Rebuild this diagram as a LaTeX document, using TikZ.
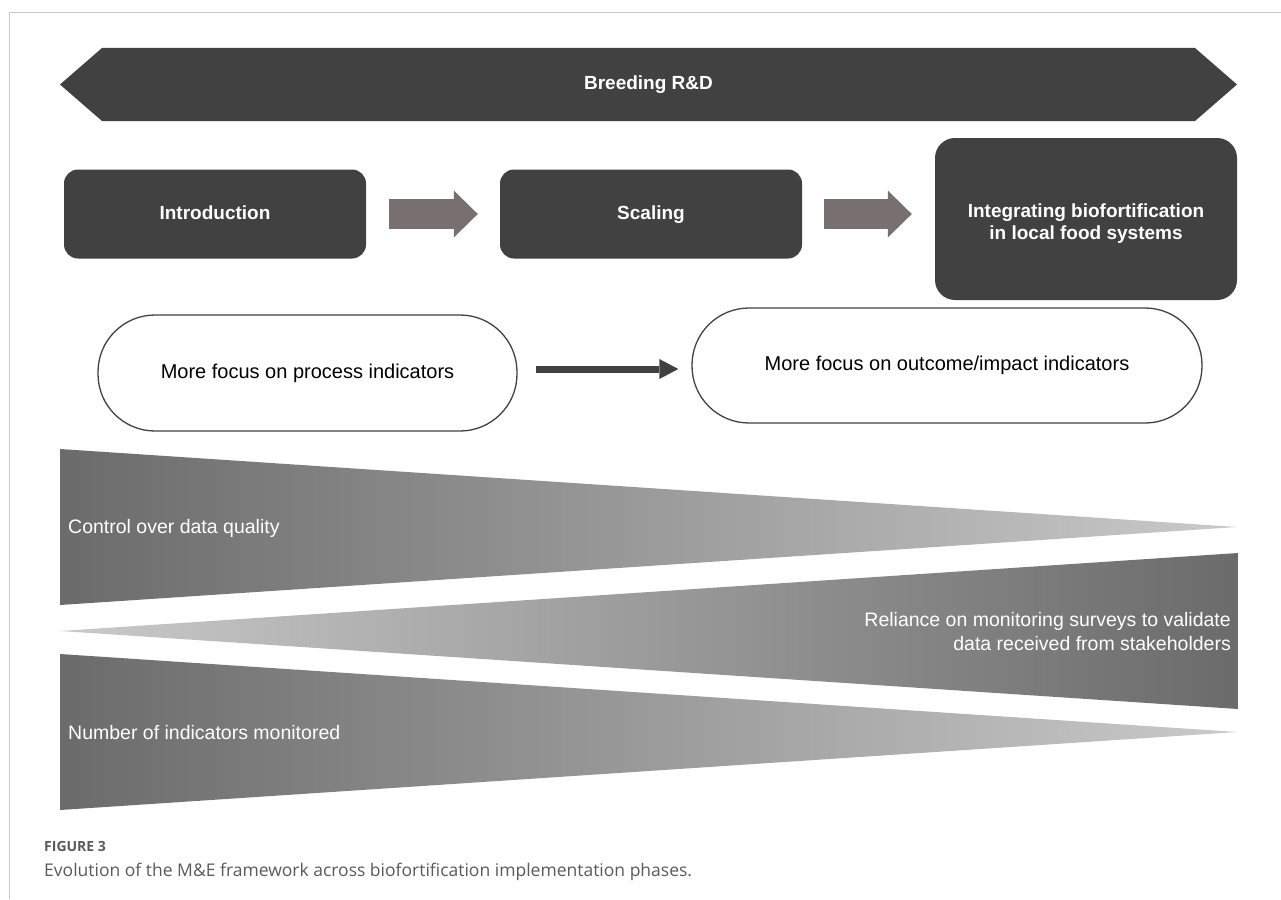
\documentclass[tikz,border=0pt]{standalone}
\usepackage{fontspec}
\setmainfont{Liberation Sans}
\newfontfamily\capfont{Open Sans}
\usetikzlibrary{arrows.meta}

\definecolor{boxgray}{HTML}{414141}
\definecolor{arrowgray}{HTML}{77706F}
\definecolor{darkwedge}{HTML}{6B6B6B}
\definecolor{lightwedge}{HTML}{CACACA}
\definecolor{framegray}{HTML}{C8C8C8}
\definecolor{capgray}{HTML}{5A5A5A}

\tikzset{
    phase/.style={fill=boxgray, text=white, font=\bfseries\fontsize{19}{22}\selectfont,
        minimum width=302pt, rounded corners=14pt, align=center, inner sep=0pt},
    oneline/.style={text height=14pt, text depth=4pt},
    focus/.style={draw=boxgray, line width=1.3pt, rounded corners=57pt, oneline,
        font=\fontsize{20}{24}\selectfont, inner sep=0pt},
    blockarrow/.style={arrowgray, line width=30pt, -{Triangle[width=47pt,length=24pt,line width=0pt]}},
    focusarrow/.style={draw=boxgray, line width=7pt, -{Triangle[width=20pt,length=19pt,line width=0pt]}},
    wedgelabel/.style={text=white, font=\fontsize{19.5}{24}\selectfont, inner sep=0pt},
}

\begin{document}
\begin{tikzpicture}[x=1pt, y=-1pt]
    \useasboundingbox (0,0) rectangle (1281,899);
    \draw[framegray, line width=1.3pt] (9.3,899) -- (9.3,12.7) -- (1281,12.7);

    % banner
    \fill[boxgray] (60,84.5) -- (102,48) -- (1195,48) -- (1237,84.5) -- (1195,121) -- (102,121) -- cycle;
    \node[text=white, font=\bfseries\fontsize{19}{22}\selectfont] (breed) at (648.5,84.5) {Breeding R\&D};

    % phases
    \node[phase, oneline, minimum height=89pt] (intro) at (215,214) {Introduction};
    \node[phase, oneline, minimum height=89pt] (scale) at (651,214) {Scaling};
    \node[phase, minimum height=162pt, rounded corners=20pt] (integ) at (1086,219) {\rule{0pt}{22pt}Integrating biofortification\\in local food systems};
    \draw[blockarrow, shorten <=23pt, shorten >=22pt] (intro.east) -- (scale.west);
    \draw[blockarrow, shorten <=22pt, shorten >=23pt] (scale.east) -- (scale.east -| integ.west);

    % indicators
    \node[focus, minimum width=419pt, minimum height=116pt] (proc) at (307.5,373) {More focus on process indicators};
    \node[focus, minimum width=510pt, minimum height=115pt] (outc) at (947,365.5) {More focus on outcome/impact indicators};
    \draw[focusarrow, shorten <=18pt, shorten >=13pt] ([yshift=4pt]proc.east) -- ([yshift=-3.5pt]outc.west);

    % wedges
    \shade[left color=darkwedge, right color=lightwedge] (60,449) -- (1237,527) -- (60,605) -- cycle;
    \shade[left color=lightwedge, right color=darkwedge] (60,631) -- (1238,553) -- (1238,709) -- cycle;
    \shade[left color=darkwedge, right color=lightwedge] (60,654) -- (1237,732) -- (60,810) -- cycle;
    \node[wedgelabel, anchor=west] (quality) at (68,528) {Control over data quality};
    \node[wedgelabel, anchor=east, align=right] (reliance) at (1231,632) {Reliance on monitoring surveys to validate\\data received from stakeholders};
    \node[wedgelabel, anchor=west] (number) at (68,733) {Number of indicators monitored};

    % caption
    \node[anchor=west, inner sep=0pt, text=capgray, font=\capfont\bfseries\fontsize{14}{16}\selectfont] (figno) at (44,846) {FIGURE 3};
    \node[anchor=west, inner sep=0pt, text=capgray, font=\capfont\fontsize{17.5}{20}\selectfont] (figcap) at (44,872) {Evolution of the M\&E framework across biofortification implementation phases.};
\end{tikzpicture}
\end{document}
